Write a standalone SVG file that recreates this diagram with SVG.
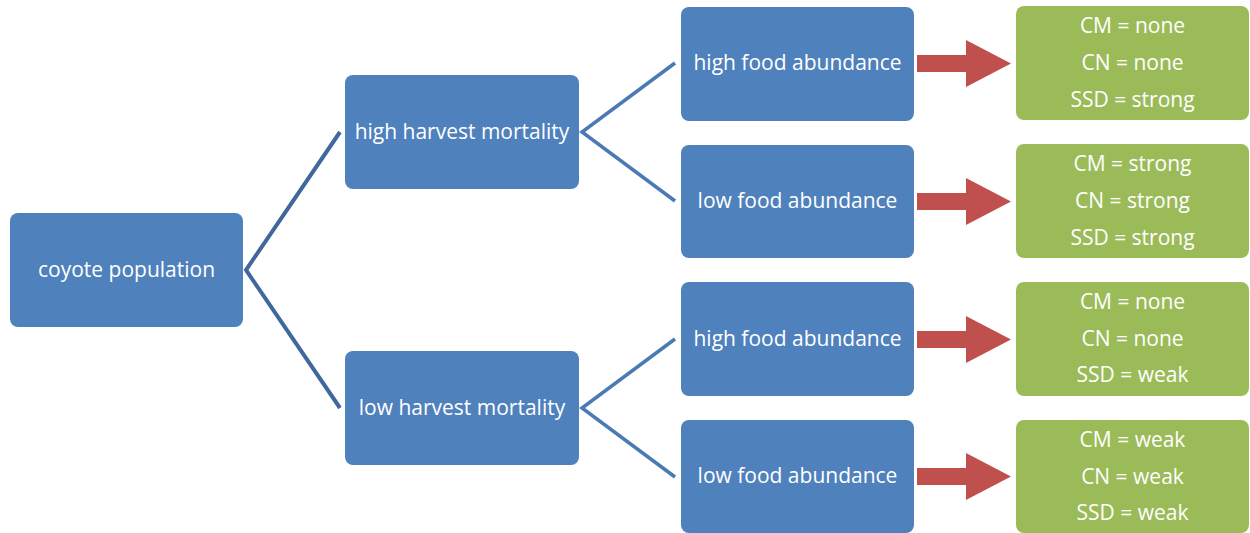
<svg xmlns="http://www.w3.org/2000/svg" width="1250" height="533" viewBox="0 0 1250 533">
<style>
.b{fill:#4f81bd}
.g{fill:#9bbb59}
.t{fill:#fff;font-family:"Open Sans","Noto Sans","Liberation Sans",sans-serif;font-size:21px;text-anchor:middle}
.c1{stroke:#41689c;stroke-width:4;fill:none}
.c2{stroke:#4a7ab6;stroke-width:3.5;fill:none}
.a{fill:#c0504d}
</style>
<rect width="1250" height="533" fill="#fff"/>
<g id="connectors">
<polyline class="c1" points="340,132 246,270 340,408"/>
<polyline class="c2" points="675,63 582,132 675,201"/>
<polyline class="c2" points="675,339 582,408 675,477"/>
<path class="a" d="M917,55H966V40L1011,63.5L966,87V72H917Z"/>
<path class="a" d="M917,193H966V178L1011,201.5L966,225V210H917Z"/>
<path class="a" d="M917,331H966V316L1011,339.5L966,363V348H917Z"/>
<path class="a" d="M917,468H966V453L1011,476.5L966,500V485H917Z"/>
</g>
<g id="coyote"><rect class="b" x="10" y="213" width="233" height="114" rx="8"/><text class="t" x="126.5" y="277">coyote population</text></g>
<g id="highHarvest"><rect class="b" x="345" y="75" width="234" height="114" rx="8"/><text class="t" x="462" y="139">high harvest mortality</text></g>
<g id="lowHarvest"><rect class="b" x="345" y="351" width="234" height="114" rx="8"/><text class="t" x="462" y="415">low harvest mortality</text></g>
<g id="food1"><rect class="b" x="681" y="7" width="233" height="114" rx="8"/><text class="t" x="797.5" y="70">high food abundance</text></g>
<g id="food2"><rect class="b" x="681" y="145" width="233" height="113" rx="8"/><text class="t" x="797.5" y="208">low food abundance</text></g>
<g id="food3"><rect class="b" x="681" y="282" width="233" height="114" rx="8"/><text class="t" x="797.5" y="346">high food abundance</text></g>
<g id="food4"><rect class="b" x="681" y="420" width="233" height="113" rx="8"/><text class="t" x="797.5" y="483">low food abundance</text></g>
<g id="res1"><rect class="g" x="1016" y="6" width="233" height="114" rx="8"/>
<text class="t" x="1132.5" y="33">CM = none</text><text class="t" x="1132.5" y="70">CN = none</text><text class="t" x="1132.5" y="107">SSD = strong</text></g>
<g id="res2"><rect class="g" x="1016" y="144" width="233" height="114" rx="8"/>
<text class="t" x="1132.5" y="171">CM = strong</text><text class="t" x="1132.5" y="208">CN = strong</text><text class="t" x="1132.5" y="245">SSD = strong</text></g>
<g id="res3"><rect class="g" x="1016" y="282" width="233" height="114" rx="8"/>
<text class="t" x="1132.5" y="309">CM = none</text><text class="t" x="1132.5" y="346">CN = none</text><text class="t" x="1132.5" y="382">SSD = weak</text></g>
<g id="res4"><rect class="g" x="1016" y="420" width="233" height="113" rx="8"/>
<text class="t" x="1132.5" y="447">CM = weak</text><text class="t" x="1132.5" y="484">CN = weak</text><text class="t" x="1132.5" y="520">SSD = weak</text></g>
</svg>
